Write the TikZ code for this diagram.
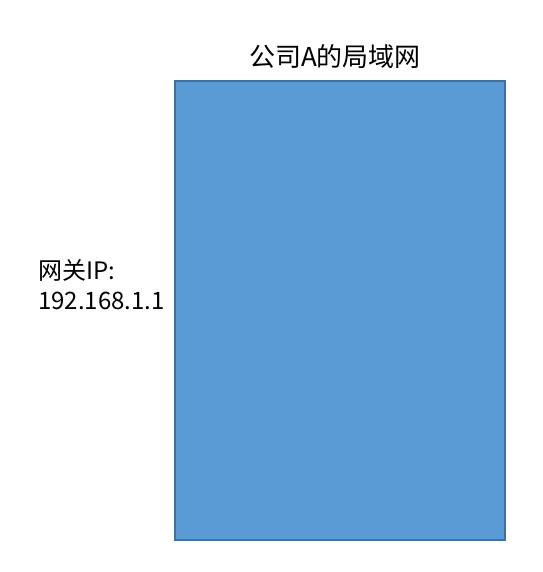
\documentclass[tikz,border=0pt]{standalone}
\usepackage{fontspec}
\setmainfont{Noto Sans CJK SC}
\usetikzlibrary{calc}

\definecolor{lanfill}{HTML}{5B9BD5}
\definecolor{landraw}{HTML}{41719C}

\begin{document}
\begin{tikzpicture}[x=1pt, y=-1pt]
			\useasboundingbox (0, 0) rectangle (542, 572);
			\coordinate (topleft) at (175, 81);
			\coordinate (bottomright) at (505, 540);
			\coordinate (title) at (335, 57);
			\coordinate (gateway) at (38, 285);
			
			\filldraw[fill=lanfill, draw=landraw, line width=1.5pt] (topleft) rectangle (bottomright);
			
			\node[inner sep=0, font=\fontsize{26}{30}\selectfont] (titlelabel) at (title) {公司A的局域网};
			
			\node[inner sep=0, anchor=west, align=left, font=\fontsize{24}{30}\selectfont] (gatewaylabel) at (gateway) {网关IP:\\192.168.1.1};
			
		\end{tikzpicture}
\end{document}
